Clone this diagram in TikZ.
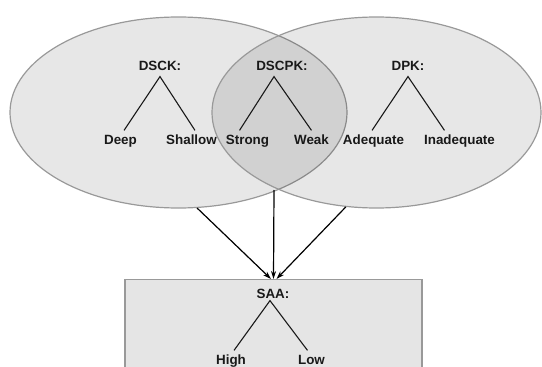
\documentclass[tikz,border=0pt]{standalone}
\usepackage{fontspec}
\setmainfont{Liberation Sans}
\usetikzlibrary{shapes.geometric,arrows.meta}
\definecolor{boxfill}{gray}{0.9}
\begin{document}
\begin{tikzpicture}[x=1pt, y=-1pt, line width=1.2pt,
  blob/.style={ellipse, draw=black!40, fill=black, fill opacity=0.095, draw opacity=1, inner sep=0pt},
  lbl/.style={font=\bfseries\fontsize{13.4}{16}\selectfont, text=black!90, text height=10pt, text depth=3pt, inner sep=3pt},
  leg/.style={black!90, line width=1.1pt},
  feed/.style={black, line width=1.2pt, -{Stealth[length=8pt,width=5pt]}}]
\useasboundingbox (0,0) rectangle (542,367);
\clip (0,0) rectangle (542,367);
% the two knowledge sets
\node[blob, minimum width=337pt, minimum height=191pt] (dsckset) at (178.5,112.5) {};
\node[blob, minimum width=329pt, minimum height=191pt] (dpkset) at (376.5,112.5) {};
\coordinate (lens) at (274,190);
% outcome box, cut at the bottom
\node[draw=black!40, fill=boxfill, anchor=north, minimum width=297pt, minimum height=110pt, inner sep=0pt] (saabox) at (273.5,279) {};
% headers
\node[lbl] (dsck) at (160,66.5) {DSCK:};
\node[lbl] (dscpk) at (282,66.5) {DSCPK:};
\node[lbl] (dpk) at (408,66.5) {DPK:};
\node[lbl] (saa) at (273,294.5) {SAA:};
% leaves
\node[lbl] (deep) at (120.5,140.5) {Deep};
\node[lbl] (shallow) at (191.5,140.5) {Shallow};
\node[lbl] (strong) at (247.5,140.5) {Strong};
\node[lbl] (weak) at (311.5,140.5) {Weak};
\node[lbl] (adequate) at (373.5,140.5) {Adequate};
\node[lbl] (inadequate) at (459.5,140.5) {Inadequate};
\node[lbl] (high) at (231,360.5) {High};
\node[lbl] (low) at (311.5,360.5) {Low};
\draw[leg] ([xshift=3.5pt]deep.north) -- (dsck.south) -- ([xshift=3.5pt]shallow.north);
\draw[leg] ([xshift=-8pt]strong.north) -- ([xshift=-8pt]dscpk.south) -- (weak.north);
\draw[leg] ([xshift=-1.5pt]adequate.north) -- (dpk.south) -- ([xshift=-15pt]inadequate.north);
\draw[leg] ([xshift=3pt]high.north) -- ([xshift=-3pt,yshift=4pt]saa.south) -- ([xshift=-4pt]low.north);
% arrows into the box
\draw[feed] (dsckset.-79) -- ([xshift=-2.5pt]saabox.north);
\draw[feed] (lens) -- (saabox.north);
\draw[feed] (dpkset.-108) -- ([xshift=3pt]saabox.north);
\end{tikzpicture}
\end{document}
